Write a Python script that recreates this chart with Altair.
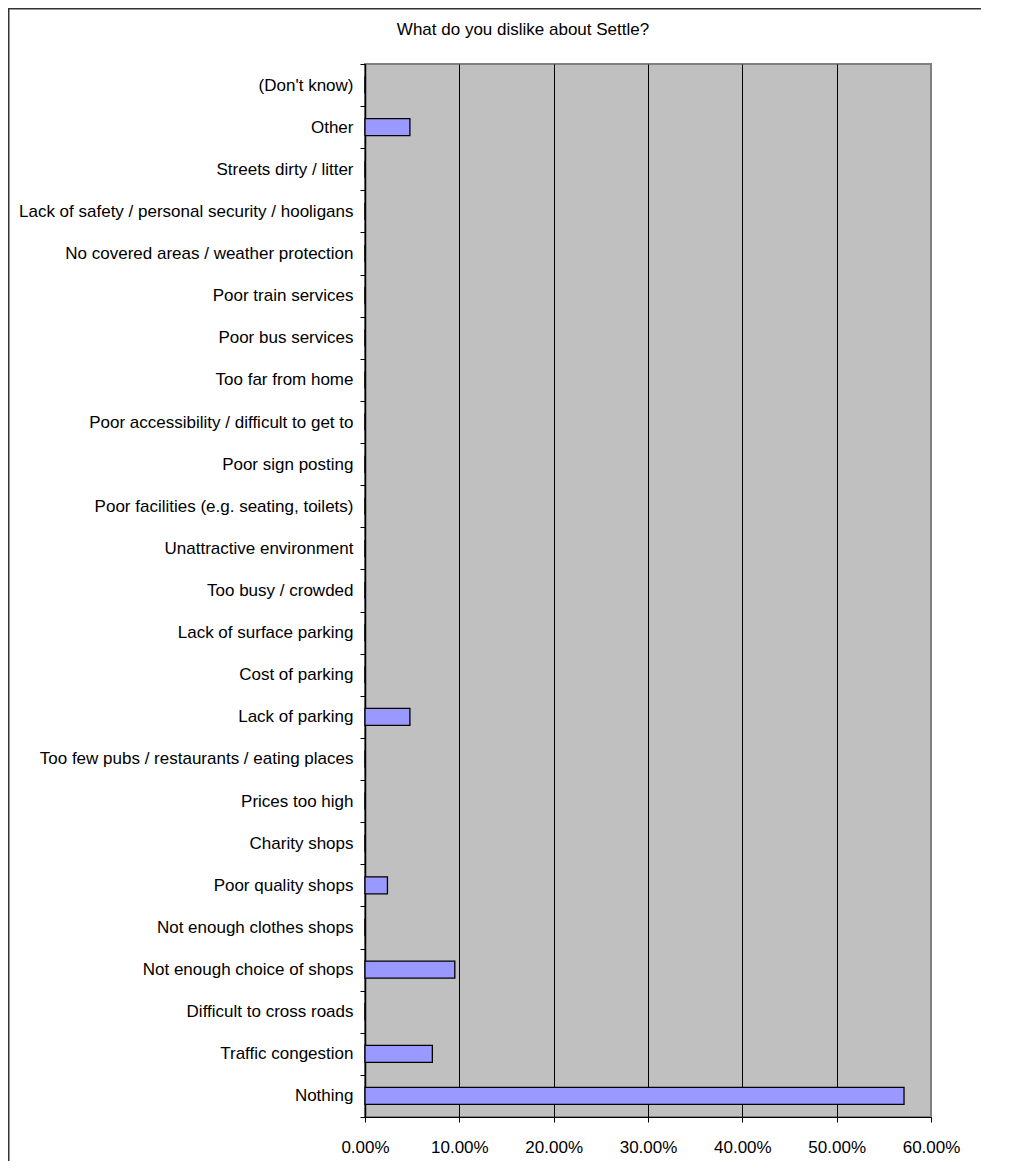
import altair as alt
import pandas as pd

categories = [
    "(Don't know)",
    "Other",
    "Streets dirty / litter",
    "Lack of safety / personal security / hooligans",
    "No covered areas / weather protection",
    "Poor train services",
    "Poor bus services",
    "Too far from home",
    "Poor accessibility / difficult to get to",
    "Poor sign posting",
    "Poor facilities (e.g. seating, toilets)",
    "Unattractive environment",
    "Too busy / crowded",
    "Lack of surface parking",
    "Cost of parking",
    "Lack of parking",
    "Too few pubs / restaurants / eating places",
    "Prices too high",
    "Charity shops",
    "Poor quality shops",
    "Not enough clothes shops",
    "Not enough choice of shops",
    "Difficult to cross roads",
    "Traffic congestion",
    "Nothing",
]
values = [
    0.0, 0.0476, 0.0, 0.0, 0.0, 0.0, 0.0, 0.0, 0.0, 0.0, 0.0, 0.0, 0.0,
    0.0, 0.0, 0.0476, 0.0, 0.0, 0.0, 0.0238, 0.0, 0.0952, 0.0, 0.0714, 0.5714,
]
x_ticks = [0.0, 0.1, 0.2, 0.3, 0.4, 0.5, 0.6]
title_text = "What do you dislike about Settle?"

FONT = "Liberation Sans"
FS = 17
W, H = 566, 1053

df = pd.DataFrame({"reason": categories, "share": values})
tdf = pd.DataFrame({"t": [title_text]})

bars = alt.Chart(df).mark_bar(
    size=17, color="#9999FF", stroke="black", strokeWidth=1.3
).encode(
    x=alt.X(
        "share:Q",
        scale=alt.Scale(domain=[0, 0.6], nice=False, zero=True),
        axis=alt.Axis(
            title=None,
            format=".2%",
            values=x_ticks,
            grid=True,
            gridColor={"condition": {"test": "datum.value > 0.59", "value": "#808080"}, "value": "black"},
            gridOpacity=1,
            gridWidth=1,
            domainColor="black",
            domainWidth=1,
            tickColor="black",
            tickSize=5,
            labelFont=FONT,
            labelFontSize=FS,
            labelColor="black",
            labelPadding=17,
            labelFlush=False,
            labelOverlap=False,
        ),
    ),
    y=alt.Y(
        "reason:N",
        sort=categories,
        scale=alt.Scale(paddingInner=0, paddingOuter=0),
        axis=alt.Axis(
            title=None,
            tickBand="extent",
            tickColor="black",
            tickSize=5,
            domainColor="black",
            domainWidth=1.5,
            labelFont=FONT,
            labelFontSize=FS,
            labelColor="black",
            labelPadding=7,
            labelLimit=500,
            grid=False,
        ),
    ),
)

title = alt.Chart(tdf).mark_text(
    font=FONT, fontSize=FS, color="black", align="center", baseline="alphabetic"
).encode(text="t:N", x=alt.value(158), y=alt.value(-29))

frame = alt.Chart(tdf).mark_rect(
    fill="transparent", stroke="#333333", strokeWidth=1.5
).encode(
    x=alt.value(-356.25), x2=alt.value(900), y=alt.value(-55.25), y2=alt.value(1300)
)

chart = alt.layer(frame, bars, title).properties(
    width=W,
    height=H,
    autosize=alt.AutoSizeParams(type="none"),
    padding={"left": 357, "top": 56, "right": 50, "bottom": 44},
    background="white",
).configure_view(
    fill="#C0C0C0", stroke="#808080", strokeWidth=2
)

chart.save("out.html", embed_options={"renderer": "svg", "actions": False})
